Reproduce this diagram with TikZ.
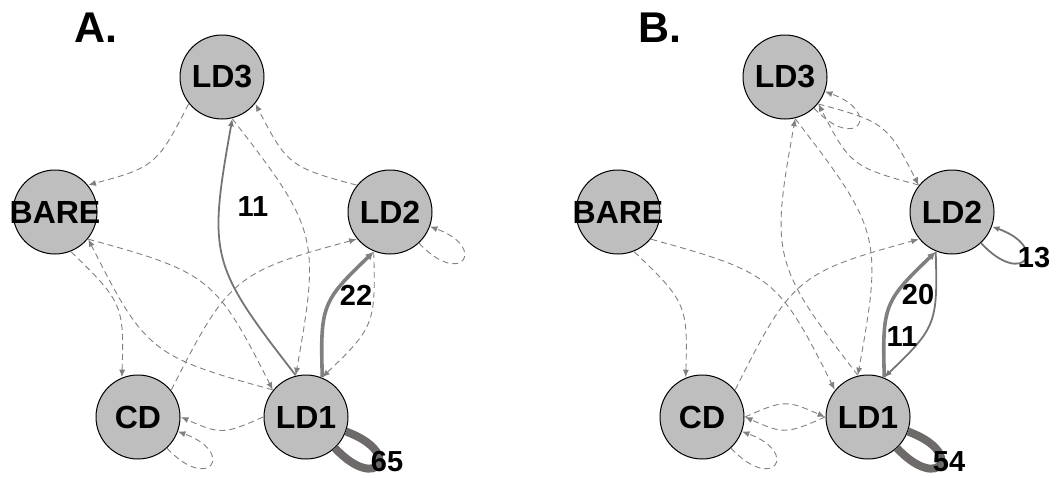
\documentclass[tikz,border=0pt]{standalone}
\usepackage{fontspec}
\setmainfont{Liberation Sans}
\usetikzlibrary{arrows.meta,calc}
\definecolor{vgray}{HTML}{BEBEBE}
\definecolor{egray}{HTML}{808080}
\definecolor{sgray}{HTML}{767474}
\definecolor{lgray}{HTML}{6E6A6A}
% curved connector between two named nodes, leaving each border on the line of centres
\newcommand\cedge[3]{\draw[#1] ($(#2)!43pt!(#3)$) to ($(#3)!43pt!(#2)$);}
\begin{document}
\begin{tikzpicture}[x=1pt,y=1pt,
  vtx/.style={circle,draw=black,line width=1pt,fill=vgray,minimum size=84pt,inner sep=0pt,
    font=\fontsize{32}{32}\selectfont\bfseries},
  tip/.style={-{Latex[length=7.5pt,width=6pt]}},
  crv/.style={bend left=24,looseness=1.35},
  dsh/.style={draw=egray,line width=0.9pt,dash pattern=on 6pt off 4pt,tip},
  w11/.style={draw=sgray,line width=1.8pt,tip},
  w22/.style={draw=egray,line width=3.6pt,-{Latex[length=8pt,width=8pt]}},
  wloop/.style={draw=lgray,line width=8pt},
  lp/.style={out=-47,in=-20,min distance=62pt},
  lab/.style={font=\fontsize{29}{29}\selectfont\bfseries},
  ttl/.style={font=\fontsize{43}{43}\selectfont\bfseries}]
\useasboundingbox (0,0) rectangle (1062,-477);

% ---------- Panel A ----------
\node[ttl] (tA) at (96,-28) {A.};
\node[vtx] (A3) at (222,-77)  {\makebox[0pt]{LD3}};
\node[vtx] (AB) at (55,-212)  {\makebox[0pt]{BARE}};
\node[vtx] (A2) at (390,-212) {\makebox[0pt]{LD2}};
\node[vtx] (AC) at (138,-417) {\makebox[0pt]{CD}};
\node[vtx] (A1) at (306,-417) {\makebox[0pt]{LD1}};

\cedge{dsh,crv}{A3}{AB}
\cedge{dsh,crv}{A2}{A3}
\cedge{w11,crv}{A1}{A3}
\cedge{dsh,crv}{A3}{A1}
\cedge{w22,crv}{A1}{A2}
\cedge{dsh,crv}{A2}{A1}
\cedge{dsh,crv}{AB}{A1}
\cedge{dsh,crv}{A1}{AB}
\cedge{dsh,crv}{AB}{AC}
\cedge{dsh,crv}{AC}{A2}
\cedge{dsh,crv}{A1}{AC}
\draw[dsh] (A2) to[lp] (A2);
\draw[dsh] (AC) to[lp] (AC);
\draw[wloop] (A1) to[lp] (A1);

\node[lab] (lA11) at (253,-207) {11};
\node[lab] (lA22) at (356,-295) {22};
\node[lab] (lA65) at (387,-462) {65};

% ---------- Panel B ----------
\node[ttl] (tB) at (660,-28) {B.};
\node[vtx] (B3) at (785,-77)  {\makebox[0pt]{LD3}};
\node[vtx] (BB) at (618,-212) {\makebox[0pt]{BARE}};
\node[vtx] (B2) at (952,-212) {\makebox[0pt]{LD2}};
\node[vtx] (BC) at (702,-417) {\makebox[0pt]{CD}};
\node[vtx] (B1) at (868,-417) {\makebox[0pt]{LD1}};

\cedge{dsh,crv}{B3}{B2}
\cedge{dsh,crv}{B2}{B3}
\cedge{dsh,crv}{B1}{B3}
\cedge{dsh,crv}{B3}{B1}
\cedge{w22,crv}{B1}{B2}
\cedge{w11,crv}{B2}{B1}
\cedge{dsh,crv}{BB}{BC}
\cedge{dsh,crv}{BB}{B1}
\cedge{dsh,crv}{BC}{B2}
\cedge{dsh,crv}{BC}{B1}
\cedge{dsh,crv}{B1}{BC}
\draw[dsh] (B3) to[lp] (B3);
\draw[w11] (B2) to[lp] (B2);
\draw[dsh] (BC) to[lp] (BC);
\draw[wloop] (B1) to[lp] (B1);

\node[lab] (lB20) at (918,-295) {20};
\node[lab] (lB11) at (902,-337) {11};
\node[lab] (lB13) at (1034,-258) {13};
\node[lab] (lB54) at (949,-462) {54};
\end{tikzpicture}
\end{document}
